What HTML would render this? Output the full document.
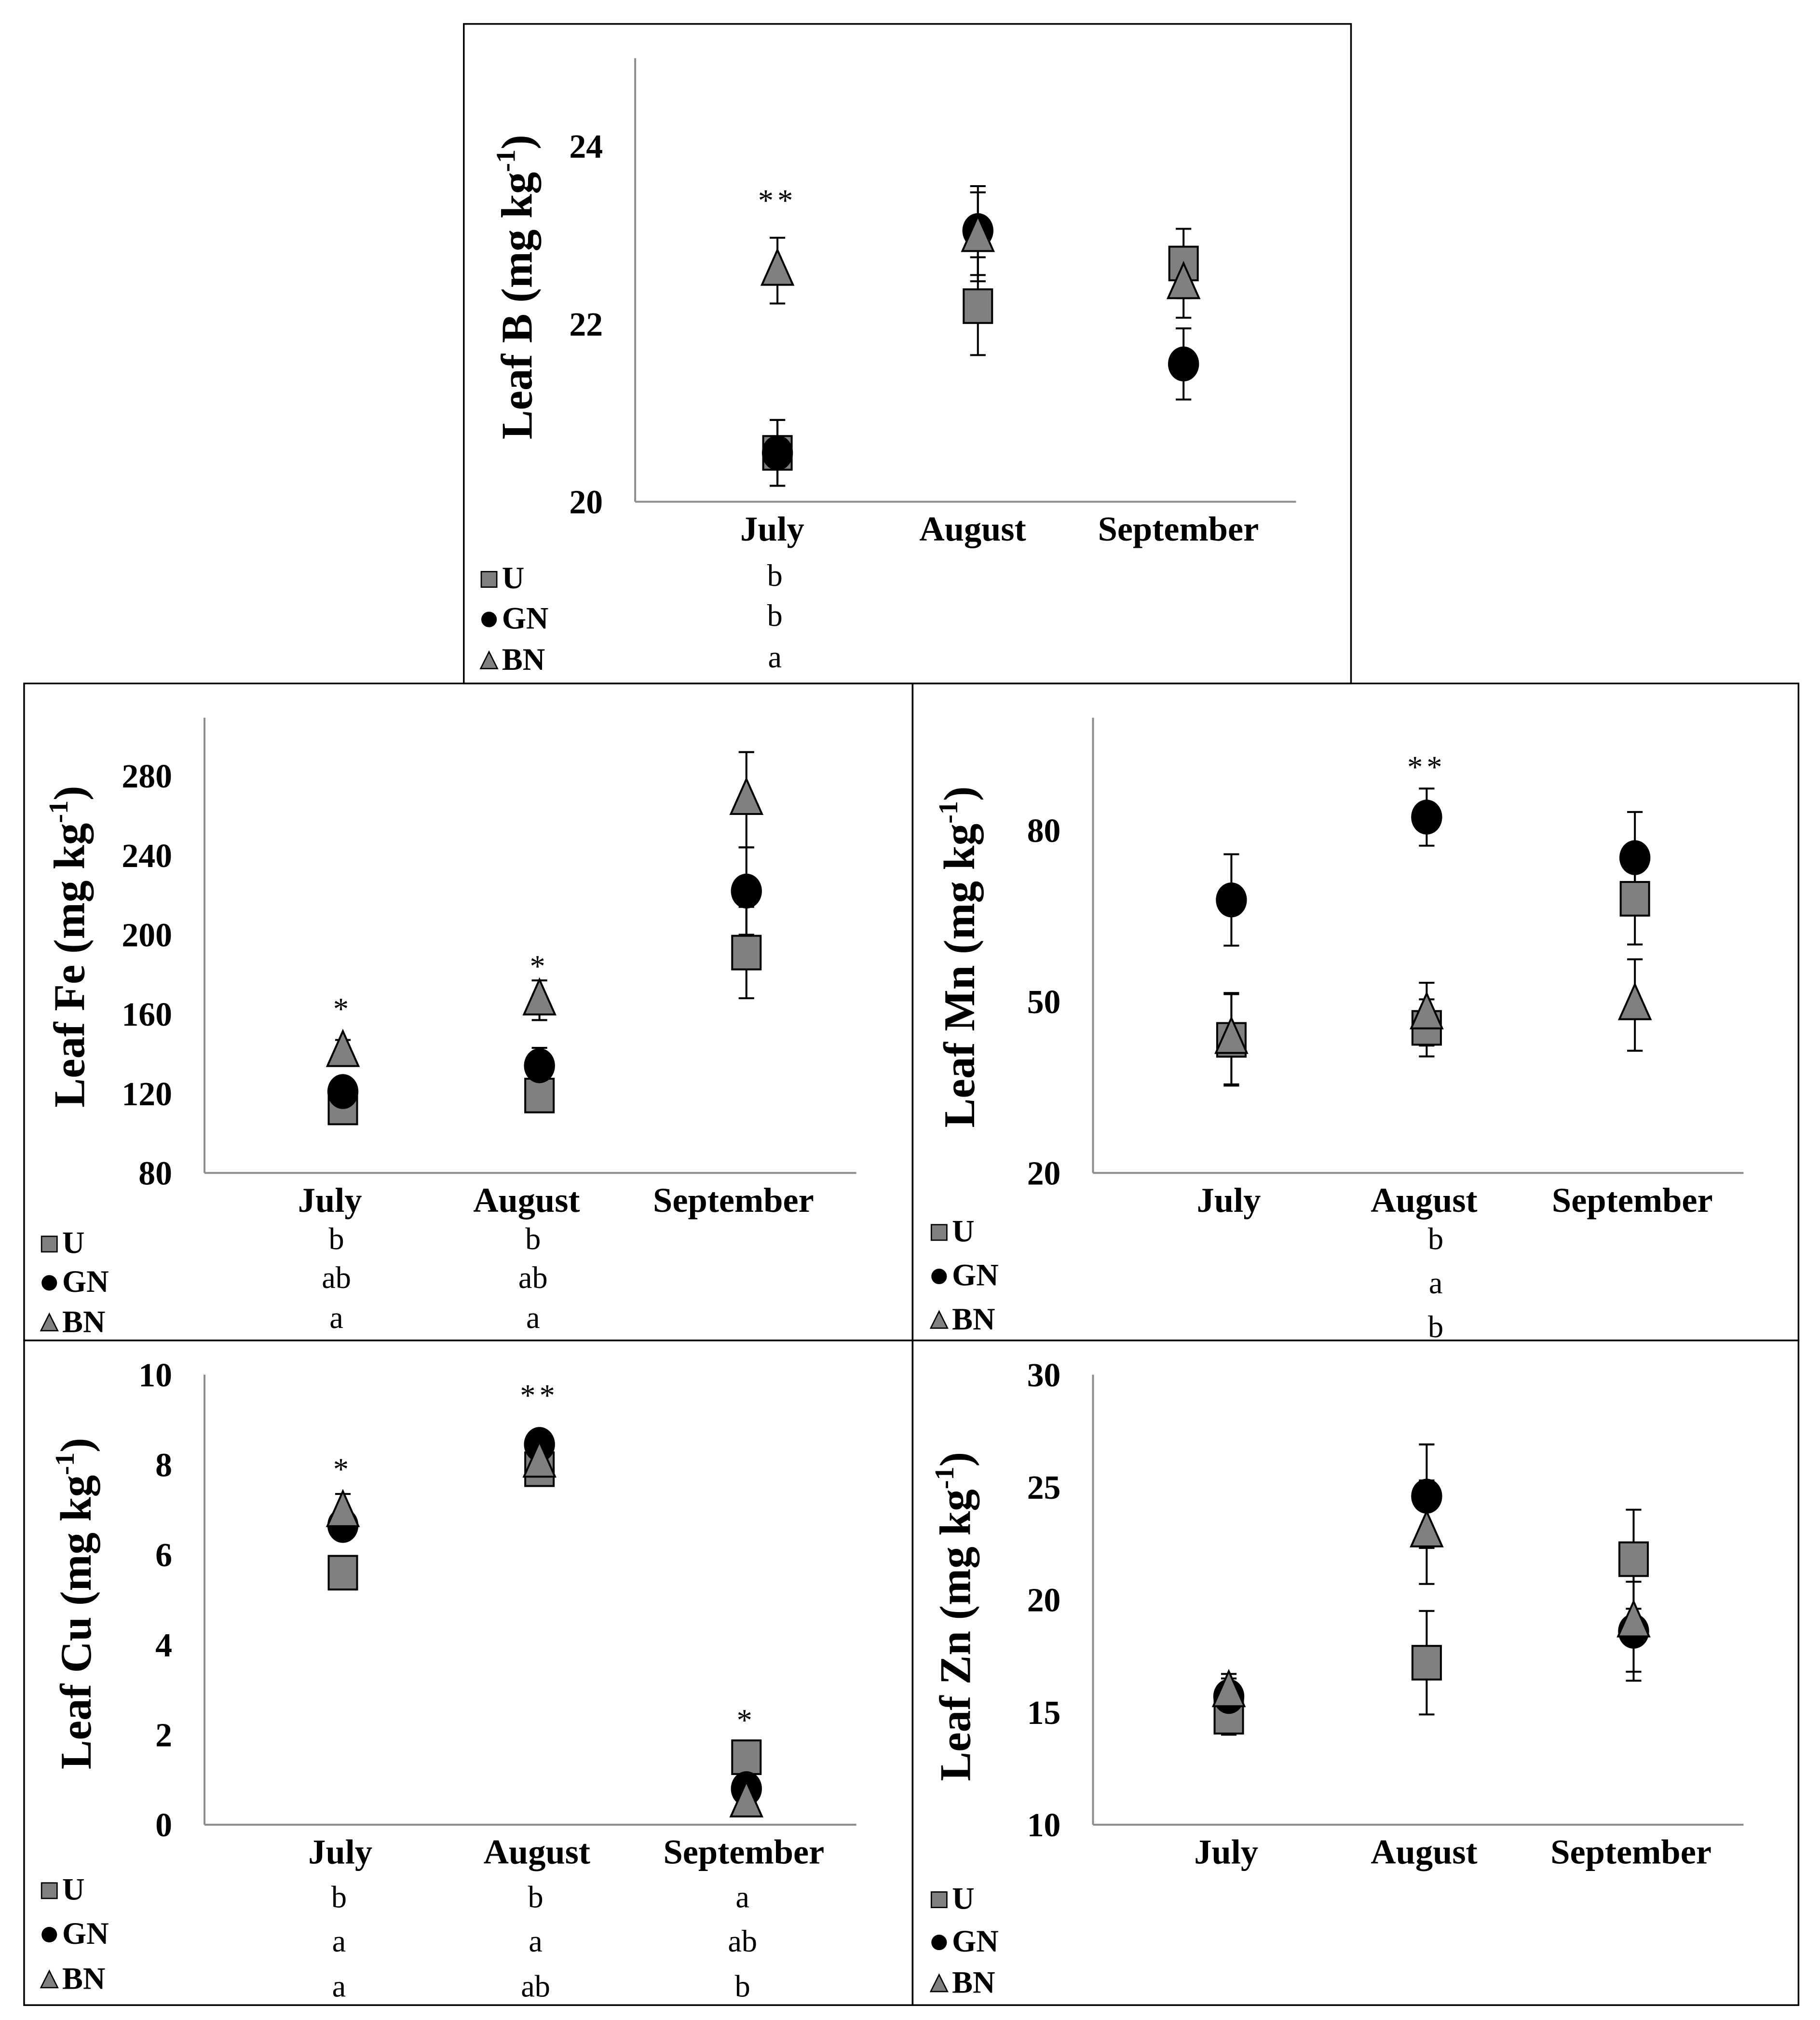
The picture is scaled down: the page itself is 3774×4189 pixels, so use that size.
<!DOCTYPE html>
<html><head><meta charset="utf-8"><style>
html,body{margin:0;padding:0;background:#fff}
svg{display:block}
text{font-family:"Liberation Serif",serif}
</style></head><body>
<svg id="fig" width="3774" height="4189" viewBox="0 0 1407 1562" xmlns="http://www.w3.org/2000/svg">
<rect x="0" y="0" width="1407" height="1562" fill="#fff"/>
<g fill="none" stroke="#000" stroke-width="1.3">
<rect x="358.5" y="18.5" width="686" height="510"/>
<rect x="18.5" y="528.5" width="687" height="508"/>
<rect x="705.5" y="528.5" width="685" height="508"/>
<rect x="18.5" y="1036.5" width="687" height="514"/>
<rect x="705.5" y="1036.5" width="685" height="514"/>
</g>
</svg>
<script>
const months = ["July","August","September"];
const bTicks=[20,22,24];
const bU=[20.55,22.2,22.68], bGN=[20.55,23.05,21.55], bBN=[22.6,22.98,22.45];
const bUe=[0.37,0.55,0.39], bGNe=[0.37,0.5,0.4], bBNe=[0.37,0.5,0.38];
const bStars=["**","",""];
const bLetU=["b","",""], bLetGN=["b","",""], bLetBN=["a","",""];
const feTicks=[80,120,160,200,240,280];
const feU=[113,119,191], feGN=[121,134,222], feBN=[141,167,268];
const feUe=[5,8,23], feGNe=[5,9,22], feBNe=[6,10,24];
const feStars=["*","*",""];
const feLetU=["b","b",""], feLetGN=["ab","ab",""], feLetBN=["a","a",""];
const mnTicks=[20,50,80];
const mnU=[43.3,45.4,68], mnGN=[67.8,82.3,75.2], mnBN=[43.5,47.8,49.4];
const mnUe=[8,5,8], mnGNe=[8,5,8], mnBNe=[8,5.5,8];
const mnStars=["","**",""];
const mnLetU=["","b",""], mnLetGN=["","a",""], mnLetBN=["","b",""];
const cuTicks=[0,2,4,6,8,10];
const cuU=[5.6,7.9,1.5], cuGN=[6.65,8.45,0.8], cuBN=[6.95,8.05,0.5];
const cuUe=[0.3,0.2,0.2], cuGNe=[0.3,0.2,0.2], cuBNe=[0.4,0.2,0.2];
const cuStars=["*","**","*"];
const cuLetU=["b","b","a"], cuLetGN=["a","a","ab"], cuLetBN=["a","ab","b"];
const znTicks=[10,15,20,25,30];
const znU=[14.8,17.2,21.8], znGN=[15.7,24.6,18.6], znBN=[15.9,23,19];
const znUe=[0.8,2.3,2.2], znGNe=[0.8,2.3,2.2], znBNe=[0.8,2.3,2.2];
const znStars=["","",""];
const znLetU=["","",""], znLetGN=["","",""], znLetBN=["","",""];

const NS="http://www.w3.org/2000/svg";
const svg=document.getElementById('fig');
function mk(tag,attrs,parent){const e=document.createElementNS(NS,tag);for(const k in attrs)e.setAttribute(k,attrs[k]);(parent||svg).appendChild(e);return e;}

function panel(cfg){
  const g=mk('g',{});
  
  
  const ticks=cfg.ticks, ymin=ticks[0], ymax=ticks[ticks.length-1];
  const yS=v=>cfg.yb-(v-ymin)/(ymax-ymin)*(cfg.yb-cfg.yt);
  const xS=i=>cfg.cx0+i*cfg.step+(i==2?cfg.extra:0);
  const ax=mk('line',{x1:cfg.ax,y1:cfg.top,x2:cfg.ax,y2:cfg.yb,stroke:'#8c8c8c','stroke-width':1.5},g);
  
  
  const xa=mk('line',{x1:cfg.ax,y1:cfg.yb,x2:cfg.xend,y2:cfg.yb,stroke:'#8c8c8c','stroke-width':1.5},g);
  
  
  ticks.forEach(t=>{
    const tx=mk('text',{x:cfg.ax-25,y:yS(t)+9,'text-anchor':'end','font-size':26,'font-weight':'bold'},g);
    tx.textContent=t;
    
    
  });
  months.forEach((m,i)=>{
    const tx=mk('text',{x:xS(i)+cfg.lblOff,y:cfg.yb+30,'text-anchor':'middle','font-size':27,'font-weight':'bold'},g);
    tx.textContent=m;
    
    
  });
  const t=mk('text',{transform:`translate(${cfg.tx},${cfg.ty}) rotate(-90)`,'text-anchor':'middle','font-size':34,'font-weight':'bold'},g);
  
  
  t.appendChild(document.createTextNode(cfg.title+' (mg kg'));
  const sup=mk('tspan',{'font-size':21,dy:-13},t); sup.textContent='-1';
  const cl=mk('tspan',{dy:13},t); cl.textContent=')';
  const series=[[cfg.U,cfg.Ue,'U'],[cfg.GN,cfg.GNe,'GN'],[cfg.BN,cfg.BNe,'BN']];
  series.forEach(([vals,errs,nm])=>{
    vals.forEach((v,i)=>{
      const x=xS(i), hi=yS(v+errs[i]), lo=yS(v-errs[i]);
      const eb=mk('path',{d:`M${x},${hi}V${lo}M${x-6},${hi}H${x+6}M${x-6},${lo}H${x+6}`,stroke:'#000','stroke-width':1.5,fill:'none'},g);
      
      
    });
  });
  series.forEach(([vals,errs,nm])=>{
    vals.forEach((v,i)=>{
      const x=xS(i), y=yS(v); let mkr;
      if(nm==='U') mkr=mk('rect',{x:x-11,y:y-13,width:22,height:26,fill:'#808080',stroke:'#000','stroke-width':1.5},g);
      else if(nm==='GN') mkr=mk('ellipse',{cx:x,cy:y,rx:12,ry:13.5,fill:'#000'},g);
      else mkr=mk('path',{d:`M${x},${y-16}L${x+12},${y+11}L${x-12},${y+11}Z`,fill:'#808080',stroke:'#000','stroke-width':1.5},g);
      
      
    });
  });
  cfg.stars.forEach((s,i)=>{
    if(!s) return;
    const st=mk('text',{x:xS(i),y:cfg.starY[i],'text-anchor':'middle','font-size':24,'letter-spacing':3},g);
    st.textContent=s;
    
    
  });
  const labs=['U','GN','BN'], lets=[cfg.LU,cfg.LGN,cfg.LBN];
  labs.forEach((l,j)=>{
    const y=cfg.legY[j], x=cfg.legX;
    let s;
    if(j==0) s=mk('rect',{x:x,y:y-13,width:12,height:12,fill:'#808080',stroke:'#000','stroke-width':1},g);
    else if(j==1) s=mk('circle',{cx:x+6,cy:y-7,r:6,fill:'#000'},g);
    else s=mk('path',{d:`M${x+6},${y-14}L${x+12.5},${y-1}L${x-0.5},${y-1}Z`,fill:'#808080',stroke:'#000','stroke-width':1},g);
    
    
    const tx=mk('text',{x:x+16,y:y,'font-size':24,'font-weight':'bold'},g);
    tx.textContent=l;
    
    
    lets[j].forEach((lt,i)=>{
      if(!lt) return;
      const le=mk('text',{x:xS(i)+cfg.letOff,y:y+cfg.letDy,'text-anchor':'middle','font-size':24},g);
      le.textContent=lt;
      
      
    });
  });
}

panel({key:'b',title:'Leaf B',ticks:bTicks,U:bU,GN:bGN,BN:bBN,Ue:bUe,GNe:bGNe,BNe:bBNe,stars:bStars,starY:[163,0,0],
  LU:bLetU,LGN:bLetGN,LBN:bLetBN,ax:491,top:45,yb:388,yt:113,xend:1002,cx0:601,step:155,extra:4,tx:411,ty:222,legX:372,legY:[455,486,518],letDy:-2,lblOff:-4,letOff:-2});
panel({key:'fe',title:'Leaf  Fe',ticks:feTicks,U:feU,GN:feGN,BN:feBN,Ue:feUe,GNe:feGNe,BNe:feBNe,stars:feStars,starY:[788,755,0],
  LU:feLetU,LGN:feLetGN,LBN:feLetBN,ax:158,top:555,yb:907,yt:600,xend:662,cx0:265,step:152,extra:8,tx:65,ty:732,legX:32,legY:[969,999,1030],letDy:-3,lblOff:-10,letOff:-5});
panel({key:'mn',title:'Leaf Mn',ticks:mnTicks,U:mnU,GN:mnGN,BN:mnBN,Ue:mnUe,GNe:mnGNe,BNe:mnBNe,stars:mnStars,starY:[0,601,0],
  LU:mnLetU,LGN:mnLetGN,LBN:mnLetBN,ax:845,top:555,yb:907,yt:642,xend:1348,cx0:952,step:151,extra:10,tx:753,ty:740,legX:720,legY:[960,994,1028],letDy:6,lblOff:-2,letOff:7});
panel({key:'cu',title:'Leaf Cu',ticks:cuTicks,U:cuU,GN:cuGN,BN:cuBN,Ue:cuUe,GNe:cuGNe,BNe:cuBNe,stars:cuStars,starY:[1144,1087,1338],
  LU:cuLetU,LGN:cuLetGN,LBN:cuLetBN,ax:158,top:1063,yb:1411,yt:1063,xend:662,cx0:265,step:152,extra:8,tx:70,ty:1240,legX:32,legY:[1469,1503,1538],letDy:6,lblOff:-2,letOff:-3});
panel({key:'zn',title:'Leaf Zn',ticks:znTicks,U:znU,GN:znGN,BN:znBN,Ue:znUe,GNe:znGNe,BNe:znBNe,stars:znStars,starY:[0,0,0],
  LU:znLetU,LGN:znLetGN,LBN:znLetBN,ax:845,top:1063,yb:1411,yt:1063,xend:1348,cx0:950,step:153,extra:7,tx:750,ty:1250,legX:720,legY:[1476,1509,1541],letDy:0,lblOff:-2,letOff:0});
</script>
</body></html>
